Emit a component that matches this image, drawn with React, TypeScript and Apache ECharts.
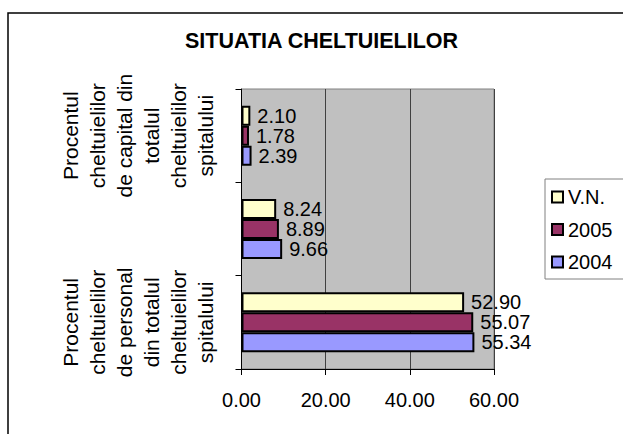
import React, { useEffect, useRef } from "react";
import * as echarts from "echarts";

const categories = [
  "Procentul\ncheltuielilor\nde personal\ndin totalul\ncheltuielilor\nspitalului",
  "",
  "Procentul\ncheltuielilor\nde capital din\ntotalul\ncheltuielilor\nspitalului",
];
const seriesNames = ["V.N.", "2005", "2004"];
const valuesVN = [52.9, 8.24, 2.1];
const values2005 = [55.07, 8.89, 1.78];
const values2004 = [55.34, 9.66, 2.39];
const xTicks = [0, 20, 40, 60];
const colors = ["#FFFFCC", "#993366", "#9999FF"];

const FONT = 'Arial, "Liberation Sans", sans-serif';

export default function App() {
  const ref = useRef<HTMLDivElement>(null);
  useEffect(() => {
    document.body.style.margin = "0";
    const chart = echarts.init(ref.current!, null, { renderer: "svg" });
    const allValues = [valuesVN, values2005, values2004];
    chart.setOption({
      animation: false,
      textStyle: { fontFamily: FONT, color: "#000" },
      title: {
        text: "SITUATIA CHELTUIELILOR",
        left: 185,
        top: 30,
        padding: 0,
        textStyle: { fontSize: 21.5, fontWeight: "bold", color: "#000", fontFamily: FONT },
      },
      graphic: [
        {
          type: "rect",
          z: -10,
          shape: { x: 8, y: 13, width: 800, height: 600 },
          style: { fill: "#fff", stroke: "#000", lineWidth: 1.5 },
          silent: true,
        },
        {
          type: "rect",
          z: 1,
          shape: { x: 545, y: 179, width: 200, height: 100 },
          style: { fill: "#fff", stroke: "#808080", lineWidth: 1 },
          silent: true,
        },
      ],
      legend: {
        data: seriesNames,
        orient: "vertical",
        left: 551,
        top: 187,
        padding: 0,
        itemGap: 12.5,
        itemWidth: 11,
        itemHeight: 11,
        icon: "rect",
        z: 5,
        textStyle: { fontSize: 20, color: "#000", fontFamily: FONT },
      },
      grid: {
        left: 241.5,
        right: 129,
        top: 89,
        bottom: 65,
        show: true,
        backgroundColor: "#C0C0C0",
        borderColor: "#808080",
        borderWidth: 1,
      },
      xAxis: {
        type: "value",
        min: xTicks[0],
        max: xTicks[xTicks.length - 1],
        interval: xTicks[1] - xTicks[0],
        axisLine: { show: true, lineStyle: { color: "#000", width: 1 } },
        axisTick: { show: true, length: 6, lineStyle: { color: "#000" } },
        splitLine: { show: true, lineStyle: { color: "#404040", width: 1 } },
        axisLabel: {
          fontSize: 20,
          color: "#000",
          margin: 21,
          fontFamily: FONT,
          formatter: (v: number) => v.toFixed(2),
        },
      },
      yAxis: {
        type: "category",
        data: categories,
        axisLine: { show: true, lineStyle: { color: "#000", width: 1 } },
        axisTick: { show: true, length: 6, lineStyle: { color: "#000" } },
        axisLabel: {
          rotate: 90,
          fontSize: 21,
          lineHeight: 27,
          margin: 23,
          color: "#000",
          fontFamily: FONT,
          interval: 0,
        },
      },
      series: seriesNames.map((name, i) => ({
        name,
        type: "bar",
        data: allValues[i],
        barWidth: 20,
        barGap: "0%",
        itemStyle: { color: colors[i], borderColor: "#000", borderWidth: 2 },
        label: {
          show: true,
          position: "right",
          distance: 7,
          fontSize: 20,
          color: "#000",
          fontFamily: FONT,
          formatter: (p: any) => Number(p.value).toFixed(2),
        },
      })),
    });
    return () => chart.dispose();
  }, []);
  return <div ref={ref} style={{ width: 623, height: 434 }} />;
}
